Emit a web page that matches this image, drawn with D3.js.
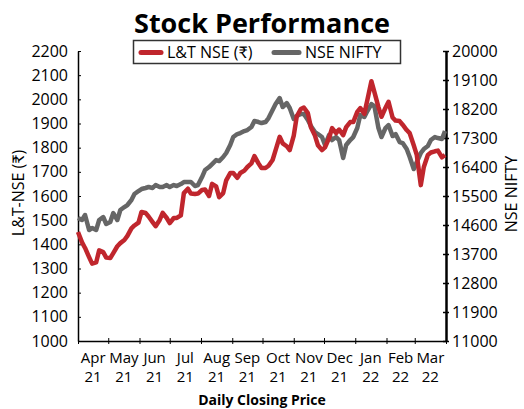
<!DOCTYPE html>
<html>
<head>
<meta charset="utf-8">
<script src="https://cdn.jsdelivr.net/npm/d3@7"></script>
<style>
  body { margin: 0; background: #fff; }
  text { font-family: "Open Sans", Lato, sans-serif; }
</style>
</head>
<body>
<svg id="chart" width="524" height="409"></svg>
<script>
// trading dates (read roughly twice a week off the chart)
const dates = [
  "2021-04-01","2021-04-05","2021-04-08","2021-04-12","2021-04-15","2021-04-19","2021-04-22","2021-04-26","2021-04-29",
  "2021-05-03","2021-05-06","2021-05-10","2021-05-13","2021-05-17","2021-05-20","2021-05-24","2021-05-27","2021-05-31",
  "2021-06-03","2021-06-07","2021-06-10","2021-06-14","2021-06-17","2021-06-21","2021-06-24","2021-06-28",
  "2021-07-01","2021-07-05","2021-07-08","2021-07-12","2021-07-15","2021-07-19","2021-07-22","2021-07-26","2021-07-29",
  "2021-08-02","2021-08-05","2021-08-09","2021-08-12","2021-08-16","2021-08-19","2021-08-23","2021-08-26","2021-08-30",
  "2021-09-02","2021-09-06","2021-09-09","2021-09-13","2021-09-16","2021-09-20","2021-09-23","2021-09-27","2021-09-30",
  "2021-10-04","2021-10-07","2021-10-11","2021-10-14","2021-10-18","2021-10-21","2021-10-25","2021-10-28",
  "2021-11-01","2021-11-04","2021-11-08","2021-11-11","2021-11-15","2021-11-18","2021-11-22","2021-11-25","2021-11-29",
  "2021-12-02","2021-12-06","2021-12-09","2021-12-13","2021-12-16","2021-12-20","2021-12-23","2021-12-27","2021-12-30",
  "2022-01-03","2022-01-06","2022-01-10","2022-01-13","2022-01-17","2022-01-20","2022-01-24","2022-01-27","2022-01-31",
  "2022-02-03","2022-02-07","2022-02-10","2022-02-14","2022-02-17","2022-02-21","2022-02-24","2022-02-28",
  "2022-03-03","2022-03-07","2022-03-10","2022-03-14","2022-03-17","2022-03-21","2022-03-24","2022-03-28","2022-03-31"
];

// L&T closing price (left axis)
const ltClose = [
  1451,1408,1385,1347,1320,1325,1375,1368,1345,
  1343,1364,1392,1405,1418,1435,1466,1478,1490,
  1534,1530,1515,1492,1475,1501,1530,1509,
  1488,1509,1509,1520,1612,1630,1610,1608,1610,
  1625,1627,1600,1650,1640,1595,1612,1665,1695,
  1695,1675,1695,1705,1720,1735,1765,1735,1716,
  1716,1725,1749,1790,1845,1818,1806,1790,
  1850,1930,1960,1966,1943,1884,1850,1810,1790,
  1801,1840,1881,1860,1875,1852,1885,1906,1906,
  1948,1964,1940,1997,2075,2030,1968,1928,1965,
  1990,1925,1912,1910,1895,1873,1860,1810,
  1770,1645,1720,1770,1780,1785,1788,1760,1770
];

// NSE NIFTY close (right axis)
const niftyClose = [
  14817,14755,14910,14444,14506,14444,14755,14848,14631,
  14693,14972,14755,15065,15158,15220,15375,15561,15655,
  15717,15748,15779,15748,15841,15779,15779,15841,
  15779,15841,15810,15872,15934,15934,15934,15810,15841,
  16089,16306,16399,16492,16616,16585,16710,16834,17082,
  17330,17423,17454,17516,17547,17640,17827,17796,17765,
  17796,17920,18168,18354,18540,18261,18385,18230,
  17889,17982,18044,18044,17858,17671,17485,17423,17330,
  17082,17392,17237,17330,17237,16678,17082,17237,17330,
  17609,18013,17951,18137,18354,18292,17609,17330,17609,
  17702,17361,17423,17175,17144,16958,16710,16337,
  16554,16834,16958,17051,17237,17330,17299,17268,17516
];

const leftTicks = [1000,1100,1200,1300,1400,1500,1600,1700,1800,1900,2000,2100,2200];
const rightTicks = [11000,11900,12800,13700,14600,15500,16400,17300,18200,19100,20000];
const monthLabels = ["Apr","May","Jun","Jul","Aug","Sep","Oct","Nov","Dec","Jan","Feb","Mar"];
const yearLabels = ["21","21","21","21","21","21","21","21","21","22","22","22"];
const seriesNames = ["L&T NSE (\u20b9)", "NSE NIFTY"];

const red = "#c0262d", grey = "#666666";
const parse = d3.timeParse("%Y-%m-%d");

const svg = d3.select("#chart");
const margin = { top: 51, right: 78, bottom: 68, left: 78 };
const width = 524 - margin.left - margin.right,
      height = 409 - margin.top - margin.bottom;

const x = d3.scaleTime()
  .domain([new Date(2021, 3, 1), new Date(2022, 3, 1)])
  .range([0, width]);
const yLeft = d3.scaleLinear().domain([1000, 2200]).range([height, 0]);
const yRight = d3.scaleLinear().domain([11000, 20000]).range([height, 0]);

const g = svg.append("g").attr("transform", `translate(${margin.left},${margin.top})`);

// title
svg.append("text")
  .attr("x", 262).attr("y", 33)
  .attr("text-anchor", "middle")
  .attr("font-family", "Lato, sans-serif")
  .attr("font-size", 27).attr("font-weight", "bold")
  .text("Stock Performance");

// left axis
const ax = g.append("g")
  .call(d3.axisLeft(yLeft).tickValues(leftTicks).tickFormat(d3.format("d"))
    .tickSize(3).tickPadding(7).tickSizeOuter(0));
ax.selectAll(".tick line").attr("x2", 3);
ax.select(".domain").attr("stroke-width", 1.5);
ax.selectAll("text").attr("font-size", 16).attr("fill", "#000");

// right axis
const ar = g.append("g").attr("transform", `translate(${width},0)`)
  .call(d3.axisRight(yRight).tickValues(rightTicks).tickFormat(d3.format("d"))
    .tickSize(3).tickPadding(3).tickSizeOuter(0));
ar.selectAll(".tick line").attr("x2", -3).attr("x1", 3).attr("stroke-width", 1.5);
ar.select(".domain").attr("stroke-width", 2.5);
ar.selectAll("text").attr("font-size", 16).attr("fill", "#000");

// bottom axis
const monthStarts = d3.timeMonth.range(new Date(2021, 3, 1), new Date(2022, 3, 2));
const ab = g.append("g").attr("transform", `translate(0,${height})`)
  .call(d3.axisBottom(x).tickValues(monthStarts).tickFormat("").tickSize(3).tickSizeOuter(0));
ab.selectAll(".tick line").attr("y1", -3);
ab.select(".domain").attr("stroke-width", 1.5);

const mid = monthStarts.slice(0, 12).map((d, i) => new Date((+d + +monthStarts[i + 1]) / 2));
const lab = g.append("g").attr("font-size", 15).attr("text-anchor", "middle")
  .attr("font-family", "Lato, sans-serif");
lab.selectAll(".m").data(mid).join("text")
  .attr("x", d => x(d)).attr("y", height + 22)
  .text((d, i) => monthLabels[i]);
lab.selectAll(".yr").data(mid).join("text")
  .attr("x", d => x(d)).attr("y", height + 41)
  .text((d, i) => yearLabels[i]);

// axis titles
svg.append("text")
  .attr("transform", "translate(24,193) rotate(-90)")
  .attr("text-anchor", "middle").attr("font-size", 16)
  .text("L&T-NSE (\u20b9)");
svg.append("text")
  .attr("transform", "translate(517,194) rotate(-90)")
  .attr("text-anchor", "middle").attr("font-size", 16)
  .text("NSE NIFTY");
svg.append("text")
  .attr("x", 262).attr("y", 405)
  .attr("text-anchor", "middle").attr("font-size", 14).attr("font-weight", "bold")
  .attr("font-family", "Lato, sans-serif")
  .text("Daily Closing Price");

// lines
const niftyLine = d3.line().x((d, i) => x(parse(dates[i]))).y(d => yRight(d));
const ltLine = d3.line().x((d, i) => x(parse(dates[i]))).y(d => yLeft(d));

g.append("path").datum(niftyClose)
  .attr("fill", "none").attr("stroke", grey).attr("stroke-width", 4.5)
  .attr("stroke-linejoin", "round").attr("d", niftyLine);
g.append("path").datum(ltClose)
  .attr("fill", "none").attr("stroke", red).attr("stroke-width", 4.5)
  .attr("stroke-linejoin", "round").attr("d", ltLine);

// legend
const lg = svg.append("g");
lg.append("rect")
  .attr("x", 133.5).attr("y", 40.5).attr("width", 267).attr("height", 23)
  .attr("fill", "#fff").attr("stroke", "#333").attr("stroke-width", 1.5);
const legendItems = [
  { name: seriesNames[0], color: red, x0: 141, tx: 167 },
  { name: seriesNames[1], color: grey, x0: 274, tx: 305 }
];
legendItems.forEach(it => {
  lg.append("line")
    .attr("x1", it.x0).attr("x2", it.tx - 6).attr("y1", 52.5).attr("y2", 52.5)
    .attr("stroke", it.color).attr("stroke-width", 5).attr("stroke-linecap", "round");
  lg.append("text")
    .attr("x", it.tx).attr("y", 58).attr("font-size", 16)
    .text(it.name);
});
</script>
</body>
</html>
